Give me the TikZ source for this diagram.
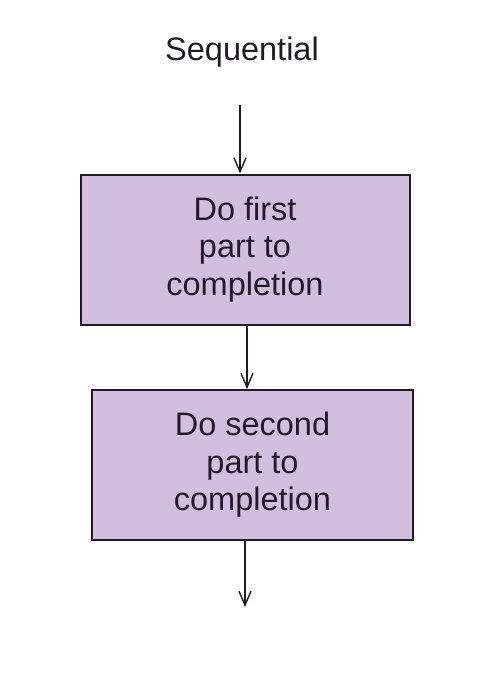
\documentclass[tikz,border=0pt]{standalone}
\usepackage{fontspec}
\setmainfont{Liberation Sans}
\usetikzlibrary{arrows.meta}
\definecolor{boxfill}{HTML}{D3BEE0}
\definecolor{ink}{HTML}{231A28}
\begin{document}
\begin{tikzpicture}[x=1pt,y=-1pt,
  stepbox/.style={draw=ink, line width=2pt, fill=boxfill, text=ink, align=center,
    font=\fontsize{32.5}{37.5}\selectfont, inner sep=0pt},
  flow/.style={draw=ink, line width=1.4pt, -{Straight Barb[length=14pt,width=12pt,line width=1.4pt]}}]
\useasboundingbox (0,0) rectangle (504,681);
\node[text=ink, font=\fontsize{32.5}{37.5}\selectfont] (title) at (242,52) {Sequential};
\node[stepbox, minimum width=329pt, minimum height=150pt] (b1) at (245,249.5) {Do first\\part to\\completion};
\node[stepbox, minimum width=321pt, minimum height=150pt] (b2) at (252.5,465) {Do second\\part to\\completion};
\coordinate (s1) at (240,105);
\coordinate (e3) at (245,607);
\draw[flow] (s1) -- (s1 |- b1.north);
\draw[flow] (b1.south -| 247,0) -- (b2.north -| 247,0);
\draw[flow] (b2.south -| e3) -- (e3);
\end{tikzpicture}
\end{document}
